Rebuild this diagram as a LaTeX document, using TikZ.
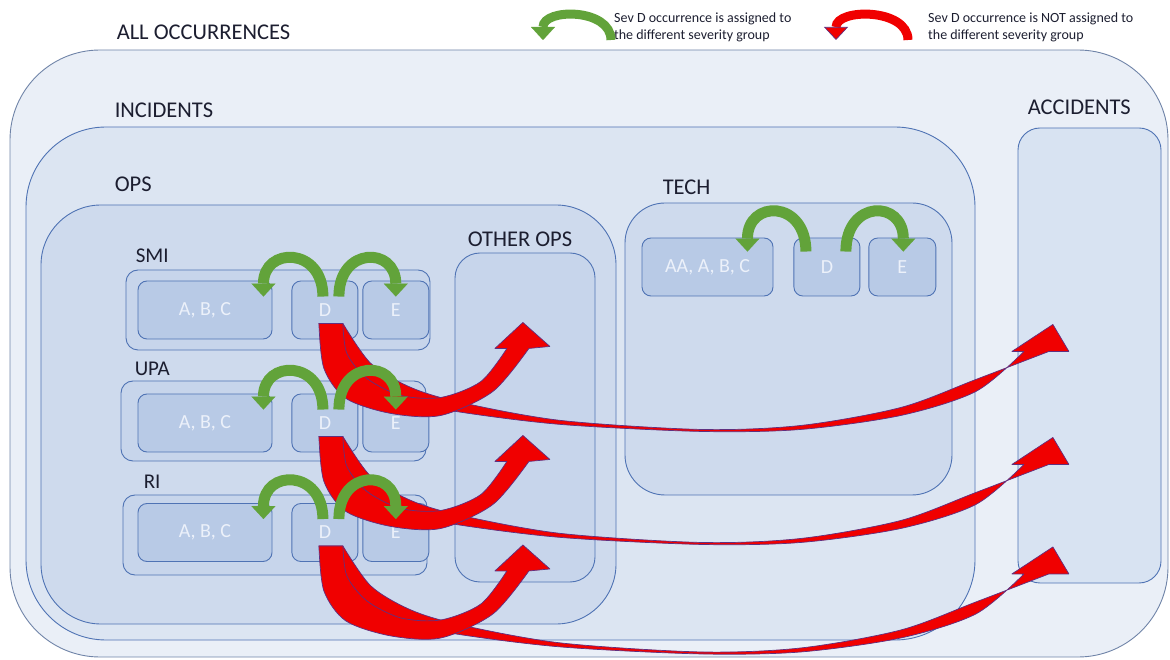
\documentclass[tikz,border=0pt]{standalone}
\usepackage{fontspec}
\setmainfont{Carlito}
\usetikzlibrary{arrows.meta,positioning}
\definecolor{linec}{RGB}{79,115,180}
\definecolor{outc}{RGB}{112,132,168}
\definecolor{allf}{RGB}{234,239,247}
\definecolor{incf}{RGB}{220,229,242}
\definecolor{opsf}{RGB}{206,218,237}
\definecolor{grpf}{RGB}{199,213,235}
\definecolor{boxf}{RGB}{184,202,230}
\definecolor{accf}{RGB}{216,227,242}
\definecolor{grnc}{RGB}{98,163,58}
\definecolor{redc}{RGB}{240,0,0}
\definecolor{redl}{RGB}{96,48,128}
\definecolor{txtc}{RGB}{28,30,48}
\definecolor{sevt}{RGB}{236,241,250}

\begin{document}
\begin{tikzpicture}[x=1pt,y=1pt,
  area/.style={draw=linec,line width=0.9pt,inner sep=0pt},
  sev/.style={area,fill=boxf,rounded corners=9pt,minimum height=58pt,text=sevt,font=\fontsize{20}{24}\selectfont},
  lbl/.style={inner sep=0pt,text=txtc,font=\fontsize{22.5}{26}\selectfont},
  rowlbl/.style={inner sep=0pt,text=txtc,font=\fontsize{21}{24}\selectfont},
  leg/.style={inner sep=0pt,align=left,text=txtc,font=\fontsize{14}{17}\selectfont},
  keep/.style={draw=grnc,line width=11pt,-{Triangle[width=24pt,length=13pt,line width=0.1pt]}},
  movekey/.style={draw=redc,line width=9pt,-{Triangle[width=24pt,length=13pt,line width=0.7pt,fill=redc,color=redl]}},
  move/.style={fill=redc,draw=redl,line width=0.7pt,line join=round}]
\useasboundingbox (0,0) rectangle (1170,659);
% --- nested sets of occurrences ---
\node[area,draw=outc,fill=allf,rounded corners=90pt,minimum width=1158pt,minimum height=607pt] (all) at (589,305.5) {};
\node[area,fill=incf,rounded corners=80pt,minimum width=949pt,minimum height=513pt] (inc) at (500.5,275.5) {};
\node[area,fill=opsf,rounded corners=60pt,minimum width=575pt,minimum height=419pt] (ops) at (328.5,244.5) {};
\node[area,fill=grpf,rounded corners=25pt,minimum width=140pt,minimum height=329pt] (oth) at (525,241.5) {};
\node[area,fill=opsf,rounded corners=40pt,minimum width=327pt,minimum height=292pt] (tech) at (788.5,310) {};
\node[area,fill=accf,rounded corners=22pt,minimum width=143pt,minimum height=455pt] (acc) at (1089.5,303.5) {};
\node[lbl,above right=10pt and 107pt of all.north west] {ALL OCCURRENCES};
\node[lbl,above right=9pt and 89pt of inc.north west] {INCIDENTS};
\node[lbl,above right=13pt and 74pt of ops.north west] {OPS};
\node[lbl,above right=6pt and 13pt of oth.north west] {OTHER OPS};
\node[lbl,above right=8pt and 38pt of tech.north west] {TECH};
\node[lbl,above right=13pt and 10pt of acc.north west] {ACCIDENTS};
% --- severity rows ---
\node[area,fill=grpf,rounded corners=12pt,minimum width=304pt,minimum height=80pt] (smi) at (278,349) {};
\node[sev,minimum width=134pt] (smiA) at (205,349) {A, B, C};
\node[sev,minimum width=66pt,right=19pt of smiA] (smiD) {D};
\node[sev,minimum width=66pt,right=4pt of smiD] (smiE) {E};
\node[rowlbl,above right=7pt and 10pt of smi.north west] {SMI};
\node[area,fill=grpf,rounded corners=12pt,minimum width=305pt,minimum height=80pt] (upa) at (273.5,238) {};
\node[sev,minimum width=134pt] (upaA) at (205,236) {A, B, C};
\node[sev,minimum width=66pt,right=19pt of upaA] (upaD) {D};
\node[sev,minimum width=66pt,right=4pt of upaD] (upaE) {E};
\node[rowlbl,above right=5pt and 14pt of upa.north west] {UPA};
\node[area,fill=grpf,rounded corners=12pt,minimum width=304pt,minimum height=80pt] (ri) at (275,124) {};
\node[sev,minimum width=134pt] (riA) at (205,126.5) {A, B, C};
\node[sev,minimum width=66pt,right=19pt of riA] (riD) {D};
\node[sev,minimum width=66pt,right=4pt of riD] (riE) {E};
\node[rowlbl,above right=6pt and 21pt of ri.north west] {RI};
\node[sev,minimum width=131pt] (techA) at (707.5,392) {AA, A, B, C};
\node[sev,minimum width=66pt,right=20pt of techA] (techD) {D};
\node[sev,minimum width=67pt,right=8pt of techD] (techE) {E};
% --- sev D not re-assigned: to other ops and to accidents ---
\foreach \row in {smi,upa,ri}{
  \begin{scope}[shift={([xshift=6pt,yshift=16pt]\row D.south)}]
    \filldraw[move] plot[smooth] coordinates {(-12,0) (18,-50) (60,-74) (125,-88) (230,-101) (370,-108) (470,-106) (570,-92) (645,-68) (693,-28)}
      -- (681,-28) -- (722,-1) -- (738,-28)
      -- plot[smooth] coordinates {(718,-28) (645,-56) (570,-84) (470,-102) (370,-106) (230,-97) (130,-79) (80,-64) (40,-40) (12,0)} -- cycle;
    \filldraw[move] plot[smooth] coordinates {(-12,0) (-7,-45) (15,-75) (60,-90) (110,-92) (162,-68) (198,-25)}
      -- (219,-23) -- (192,1) -- (164,-25)
      -- plot[smooth] coordinates {(176,-25) (150,-58) (110,-74) (70,-72) (36,-55) (16,-30) (12,0)} -- cycle;
  \end{scope}
}
% --- sev D re-assigned inside the row ---
\foreach \row in {smi,upa,ri}{
  \draw[keep] ([xshift=-2pt,yshift=-16pt]\row D.north) .. controls +(0,50) and +(0,50) .. ([xshift=-9pt,yshift=-16pt]\row A.north east);
  \draw[keep] ([xshift=14pt,yshift=-16pt]\row D.north) .. controls +(0,50) and +(0,50) .. ([yshift=-16pt]\row E.north);
}
\draw[keep] ([xshift=-21pt,yshift=-14pt]techD.north) .. controls +(0,52) and +(0,52) .. ([xshift=-26pt,yshift=-14pt]techA.north east);
\draw[keep] ([xshift=19pt,yshift=-14pt]techD.north) .. controls +(0,52) and +(0,52) .. ([xshift=1pt,yshift=-14pt]techE.north);
% --- legend ---
\node[leg,anchor=north west] (legK) at (614,646) {Sev D occurrence is assigned to\\the different severity group};
\node[leg,anchor=north west] (legM) at (928,646) {Sev D occurrence is NOT assigned to\\the different severity group};
\coordinate (kT) at (611,619);
\coordinate (kH) at (543,619);
\draw[keep,line width=9pt] (kT) .. controls +(0,32) and +(0,32) .. (kH);
\coordinate (mT) at (908,619);
\coordinate (mH) at (836,619);
\draw[movekey] (mT) .. controls +(0,32) and +(0,32) .. (mH);
\end{tikzpicture}
\end{document}
